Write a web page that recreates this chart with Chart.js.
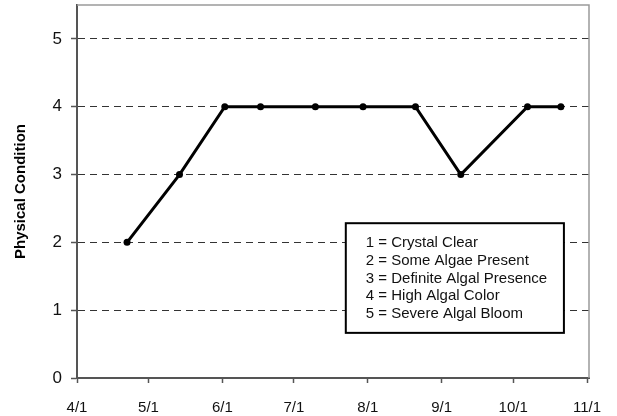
<!DOCTYPE html>
<html>
<head>
<meta charset="utf-8">
<script src="https://cdn.jsdelivr.net/npm/chart.js@4"></script>
<style>
  html, body { margin: 0; padding: 0; background: #fff; }
  #wrap { width: 617px; height: 416px; }
</style>
</head>
<body>
<div id="wrap"><canvas id="chart"></canvas></div>
<script>
// Sampling dates (month/day) and the physical condition score on each visit.
const sampleDates = ["4/22", "5/14", "6/2", "6/17", "7/10", "7/30", "8/21", "9/9", "10/7", "10/21"];
const conditionValues = [2, 3, 4, 4, 4, 4, 4, 3, 4, 4];
const monthTicks = ["4/1", "5/1", "6/1", "7/1", "8/1", "9/1", "10/1", "11/1"];
const conditionTicks = [0, 1, 2, 3, 4, 5];
const conditionLabels = [
  "1 = Crystal Clear",
  "2 = Some Algae Present",
  "3 = Definite Algal Presence",
  "4 = High Algal Color",
  "5 = Severe Algal Bloom",
];

const FONT = "'Liberation Sans', Arial, sans-serif";

// Days since 4/1, so the x axis is a plain linear scale.
const seasonStart = new Date(2001, 3, 1);
function dayOf(md) {
  const [m, d] = md.split("/").map(Number);
  return Math.round((new Date(2001, m - 1, d) - seasonStart) / 86400000);
}

// Light frame on the top and right of the plot area.
const frame = {
  id: "frame",
  beforeDatasetsDraw(chart) {
    const { ctx, chartArea: a } = chart;
    ctx.save();
    ctx.strokeStyle = "#9a9a9a";
    ctx.lineWidth = 1.5;
    ctx.beginPath();
    ctx.moveTo(a.left, a.top);
    ctx.lineTo(a.right, a.top);
    ctx.lineTo(a.right, a.bottom);
    ctx.stroke();
    ctx.restore();
  },
};

// The key box explaining the condition scores.
const keyBox = {
  id: "keyBox",
  afterDatasetsDraw(chart) {
    const { ctx, chartArea: a } = chart;
    const x0 = a.left + a.width * 0.525;
    const x1 = a.left + a.width * 0.951;
    const y0 = a.top + a.height * 0.585;
    const y1 = a.top + a.height * 0.879;
    ctx.save();
    ctx.fillStyle = "#fff";
    ctx.fillRect(x0, y0, x1 - x0, y1 - y0);
    ctx.strokeStyle = "#000";
    ctx.lineWidth = 2;
    ctx.strokeRect(x0, y0, x1 - x0, y1 - y0);
    ctx.fillStyle = "#111";
    ctx.font = "15px " + FONT;
    ctx.textBaseline = "middle";
    conditionLabels.forEach((t, i) => ctx.fillText(t, x0 + 20, y0 + 20 + i * 17.7));
    ctx.restore();
  },
};

function noPad(s) {
  s.paddingTop = 0;
  s.paddingBottom = 0;
  s.paddingLeft = 0;
  s.paddingRight = 0;
}

new Chart(document.getElementById("chart"), {
  type: "line",
  data: {
    datasets: [{
      data: sampleDates.map((d, i) => ({ x: dayOf(d), y: conditionValues[i] })),
      borderColor: "#000",
      borderWidth: 3,
      pointRadius: 3.5,
      pointBackgroundColor: "#000",
      pointBorderWidth: 0,
      tension: 0,
    }],
  },
  options: {
    responsive: true,
    maintainAspectRatio: false,
    animation: false,
    devicePixelRatio: 1,
    layout: { autoPadding: false, padding: { top: 5, right: 28, left: 0, bottom: 0 } },
    plugins: { legend: { display: false }, tooltip: { enabled: false } },
    scales: {
      x: {
        type: "linear",
        min: 0,
        max: dayOf("11/1") + 0.8,
        afterBuildTicks: (s) => { s.ticks = monthTicks.map((t) => ({ value: dayOf(t) })); },
        afterFit: (s) => { s.height = 38; noPad(s); },
        ticks: {
          callback: (v, i) => monthTicks[i],
          font: { family: FONT, size: 15 },
          color: "#111",
          padding: 16,
          maxRotation: 0,
          autoSkip: false,
        },
        grid: { drawOnChartArea: false, tickLength: 5, tickColor: "#555", tickWidth: 1.5 },
        border: { color: "#555", width: 2 },
      },
      y: {
        min: 0,
        max: 5.5,
        afterBuildTicks: (s) => { s.ticks = conditionTicks.map((v) => ({ value: v })); },
        afterFit: (s) => { s.width = 77; noPad(s); },
        ticks: {
          font: { family: FONT, size: 17 },
          color: "#111",
          padding: 9,
        },
        grid: { color: "#333", lineWidth: 1, tickLength: 6, tickColor: "#555", tickWidth: 1.5 },
        border: { color: "#555", width: 2, dash: [7, 5] },
        title: {
          display: true,
          text: "Physical Condition",
          font: { family: FONT, size: 15, weight: "bold" },
          color: "#000",
          padding: { top: 12, bottom: 0 },
        },
      },
    },
  },
  plugins: [frame, keyBox],
});
</script>
</body>
</html>
